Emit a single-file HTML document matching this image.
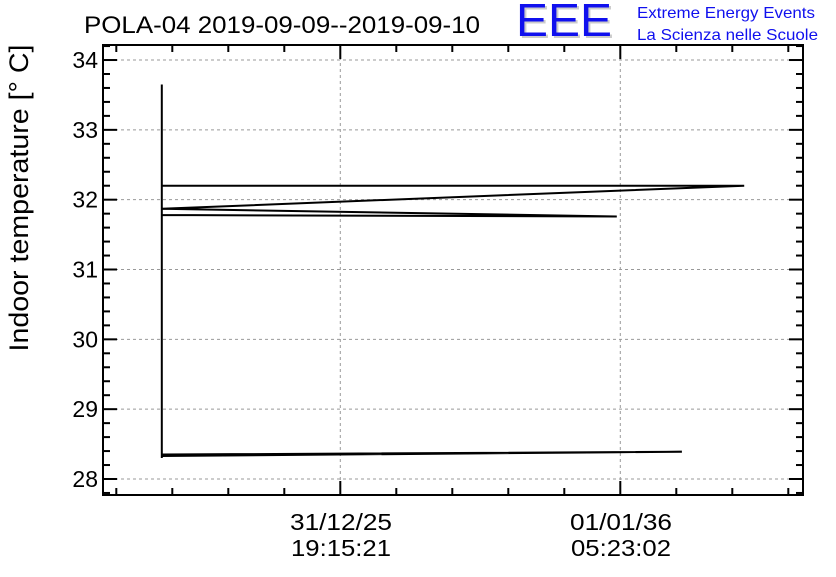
<!DOCTYPE html>
<html><head><meta charset="utf-8"><style>
body{margin:0;background:#fff;}
svg text{font-family:"Liberation Sans",sans-serif;}
</style></head><body>
<svg width="836" height="572" xmlns="http://www.w3.org/2000/svg">
<rect width="836" height="572" fill="#fff"/>
<text x="84" y="33" font-size="24" textLength="396" lengthAdjust="spacingAndGlyphs">POLA-04 2019-09-09--2019-09-10</text>
<g>
<text x="518" y="38" font-size="46" fill="#ccc" textLength="96" lengthAdjust="spacingAndGlyphs">EEE</text>
<text x="516" y="36" font-size="46" fill="#1010ee" textLength="96" lengthAdjust="spacingAndGlyphs">EEE</text>
<text x="637" y="18" font-size="16" fill="#1010ee" textLength="178" lengthAdjust="spacingAndGlyphs">Extreme Energy Events</text>
<text x="637" y="40" font-size="16" fill="#1010ee" textLength="181" lengthAdjust="spacingAndGlyphs">La Scienza nelle Scuole</text>
</g>
<text transform="translate(28,198) rotate(-90)" text-anchor="middle" font-size="27" textLength="307" lengthAdjust="spacingAndGlyphs">Indoor temperature [° C]</text>
<g id="grid"></g>
<g id="ticks"></g>
<g id="plot"></g>
<rect x="103" y="45" width="700" height="450" fill="none" stroke="#000" stroke-width="2"/>
<g font-size="23" text-anchor="middle">
<text x="341" y="530" textLength="102" lengthAdjust="spacingAndGlyphs">31/12/25</text><text x="341" y="556" textLength="100" lengthAdjust="spacingAndGlyphs">19:15:21</text>
<text x="621" y="530" textLength="102" lengthAdjust="spacingAndGlyphs">01/01/36</text><text x="621" y="556" textLength="100" lengthAdjust="spacingAndGlyphs">05:23:02</text>
</g>
</svg>
<script>
const yTicks=[28,29,30,31,32,33,34];
const xMajor=[33.9,73.9];
const times=[8.4,8.4,8.4,82.7,8.4,8.4,91.6,8.4,73.4,8.4];
const temps=[33.65,28.3,28.33,28.39,28.35,32.2,32.2,31.87,31.76,31.78];
const L=103,R=803,T=45,B=495;
const xs=v=>L+v*(R-L)/100;
const ys=v=>479-(v-28)*69.83;
const NS="http://www.w3.org/2000/svg";
function mk(tag,attrs,parent){const e=document.createElementNS(NS,tag);for(const k in attrs)e.setAttribute(k,attrs[k]);document.getElementById(parent).appendChild(e);return e;}
yTicks.forEach(t=>{
 const y=ys(t);
 const g=mk('line',{x1:L,x2:R,y1:y,y2:y,stroke:'#999','stroke-dasharray':'3,3','stroke-width':1},'grid');
 
 
 const lb=mk('text',{x:98,y:y+8,'font-size':23,'text-anchor':'end'},'ticks');
 lb.textContent=t;
 
 
 [L,R].forEach((x0,i)=>{const d=i?-1:1;
  const tk=mk('line',{x1:x0,x2:x0+d*14,y1:y,y2:y,stroke:'#000','stroke-width':2},'ticks');
  
  
  for(let m=1;m<5;m++){const ym=ys(t+m*0.2);if(ym<T)break;
   const mt=mk('line',{x1:x0,x2:x0+d*7,y1:ym,y2:ym,stroke:'#000','stroke-width':2},'ticks');
   
   }
  const ym=ys(t-0.2);if(t===28&&ym<B){const mt=mk('line',{x1:x0,x2:x0+d*7,y1:ym,y2:ym,stroke:'#000','stroke-width':2},'ticks');}
 });
});
const step=8;
xMajor.forEach(v=>{
 const x=xs(v);
 const g=mk('line',{x1:x,x2:x,y1:T,y2:B,stroke:'#999','stroke-dasharray':'3,3','stroke-width':1},'grid');
 
 
});
for(let v=xMajor[0]-5*step;v<=100;v+=step){
 if(v<0)continue;
 const x=xs(v);const major=xMajor.some(m=>Math.abs(m-v)<0.01);const len=major?14:7;
 [[B,-1],[T,1]].forEach(([y0,d])=>{
  const tk=mk('line',{x1:x,x2:x,y1:y0,y2:y0+d*len,stroke:'#000','stroke-width':2},'ticks');
  
  
 });
}
const pts=times.map((t,i)=>xs(t)+','+ys(temps[i])).join(' ');
const pl=mk('polyline',{points:pts,fill:'none',stroke:'#000','stroke-width':2},'plot');


</script>
</body></html>
